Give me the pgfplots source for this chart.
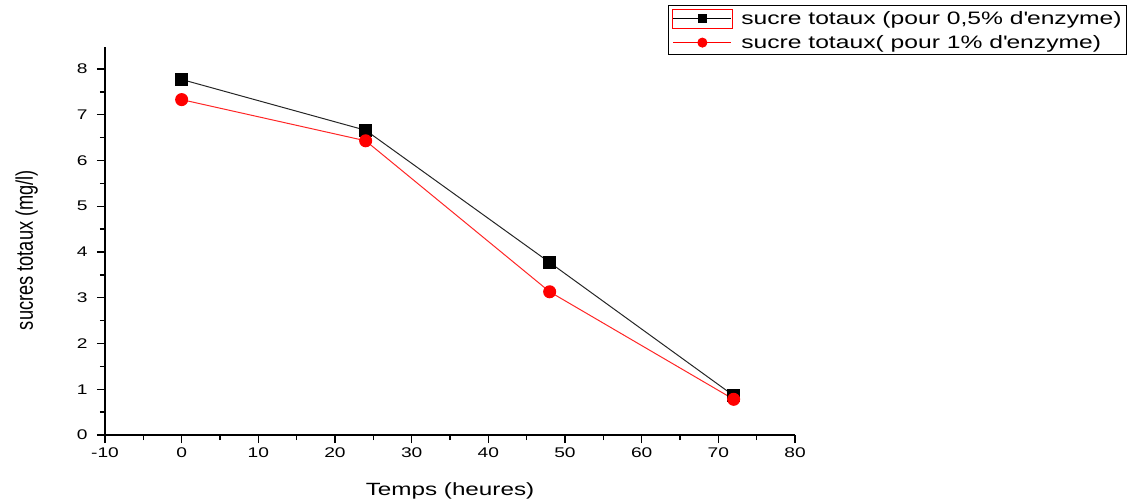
\documentclass[border=0pt]{standalone}
\usepackage{fontspec}
\setmainfont{Liberation Sans}
\newfontfamily\widefont{Liberation Sans}[FakeStretch=1.37]
\newfontfamily\narrowfont{Liberation Sans}[FakeStretch=0.76]
\usepackage{pgfplots}
\pgfplotsset{compat=1.18}

\pgfplotstableread{
t   s
0   7.77
24  6.66
48  3.77
72  0.86
}\halfpct
\pgfplotstableread{
t   s
0   7.33
24  6.43
48  3.13
72  0.78
}\onepct

\begin{document}
\begin{tikzpicture}
\path[use as bounding box] (-105pt,-68pt) rectangle (1027pt,435pt);
\begin{axis}[
    scale only axis,
    width=690pt, height=388pt,
    xmin=-10, xmax=80, ymin=0, ymax=8.48,
    axis x line*=bottom, axis y line*=left,
    axis line style={line width=1.6pt},
    xtick={-10,0,...,80}, ytick={0,1,...,8},
    minor x tick num=1, minor y tick num=1,
    tick align=outside,
    major tick length=8pt, minor tick length=5pt,
    tick style={line width=1.4pt, black},
    /pgf/number format/assume math mode=true,
    ticklabel style={font={\fontsize{14}{16}\widefont}},
    xticklabel style={yshift=-1pt},
    yticklabel style={xshift=-6pt},
    xlabel={Temps (heures)},
    ylabel={sucres totaux (mg/l)},
    xlabel style={font={\fontsize{17.7}{20}\widefont}, yshift=-18pt},
    ylabel style={font={\fontsize{24}{26}\narrowfont}, yshift=32pt, xshift=-9pt},
    clip=false,
    legend cell align=left,
    legend style={at={(rel axis cs:0.816,1.108)}, anchor=north west,
        draw=black, line width=0.9pt,
        font={\fontsize{18}{22}\widefont},
        inner sep=3.5pt, row sep=5pt,
        nodes={inner sep=1.5pt},
        /tikz/every odd column/.append style={column sep=7pt}},
]
\addplot[gray!30!black, line width=1pt, mark=square*, mark size=6pt,
    mark options={fill=black, draw=black},
    legend image code/.code={
        \draw[red, line width=0.8pt] (-1pt,-9.5pt) rectangle (59pt,9.5pt);
        \draw[black, line width=1pt] (0pt,0pt) -- (58pt,0pt);
        \fill[black] (25pt,-4pt) rectangle (33pt,4pt);
    }] table[x=t, y=s] {\halfpct};
\addlegendentry{sucre totaux (pour 0,5\% d\textquotesingle enzyme)}
\addplot[red!85!white, line width=1pt, mark=*, mark size=6pt,
    mark options={fill=red, draw=red},
    legend image code/.code={
        \draw[red, line width=1pt] (0pt,0pt) -- (58pt,0pt);
        \fill[red] (29pt,0pt) circle (4.5pt);
    }] table[x=t, y=s] {\onepct};
\addlegendentry{sucre totaux( pour 1\% d\textquotesingle enzyme)}
\end{axis}
\end{tikzpicture}
\end{document}
